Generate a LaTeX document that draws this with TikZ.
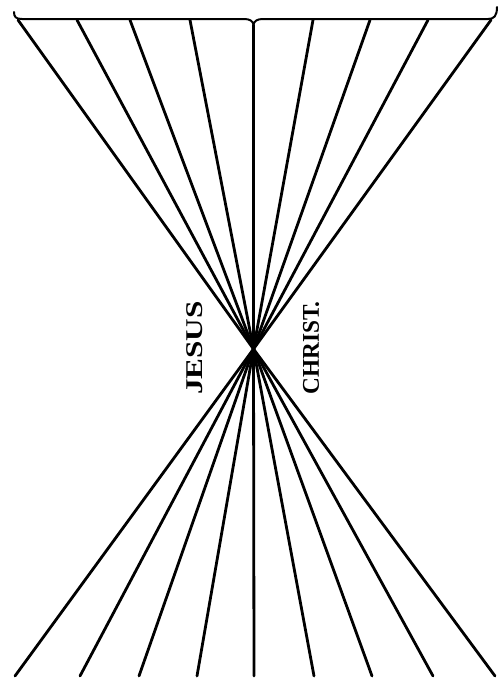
\documentclass[tikz,border=0pt]{standalone}
\usepackage{fontspec}
\setmainfont{Liberation Serif}
\usepackage{graphicx}
\begin{document}
\begin{tikzpicture}[x=1pt,y=-1pt,
  ray/.style={line width=2.8pt,line cap=round},
  brace/.style={line width=2pt,line cap=round},
  word/.style={rotate=90,inner sep=0pt,font=\bfseries\fontsize{24}{24}\selectfont}]
\useasboundingbox (0,0) rectangle (502,691);
% brace
\draw[brace] (14,12) .. controls (14,17) and (16,19) .. (22,19)
  -- (244,19) .. controls (250,19) and (253,21) .. (253.5,25)
  .. controls (254,21) and (257,19) .. (263,19)
  -- (488,19) .. controls (494,19) and (497,16) .. (497,7);
\coordinate (c) at (253.5,349);
% top endpoints
\foreach \i/\x in {1/18,2/77,3/130,4/190,5/253.5,6/313,7/370,8/428,9/491}{
  \coordinate (t\i) at (\x,\ifnum\i=5 25\else 20\fi);
  \draw[ray] (t\i) -- (c);
}
% bottom endpoints
\foreach \i/\x in {1/15,2/80,3/139,4/197,5/254,6/314,7/372,8/433,9/495}{
  \coordinate (b\i) at (\x,676);
  \draw[ray] (c) -- (b\i);
}
\node[word] (jesus) at (195,348) {\scalebox{1.3}[1]{JESUS}};
\node[word] (christ) at (311,348) {\scalebox{0.97}[1]{CHRIST.}};
\end{tikzpicture}
\end{document}
